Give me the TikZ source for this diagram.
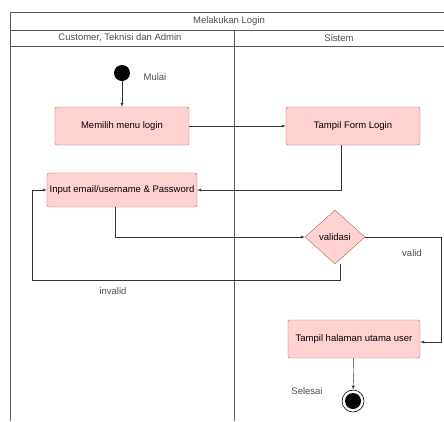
\documentclass[tikz,border=0pt]{standalone}
\usepackage{fontspec}
\setmainfont{Liberation Sans}
\usetikzlibrary{arrows}
\usetikzlibrary{shapes.geometric}
\tikzstyle{act}=[rectangle, rounded corners=2pt, draw=red!45!black!60, fill=red!18, minimum width=134pt, minimum height=38pt, font=\fontsize{9.5}{11}\selectfont]
\tikzstyle{dec}=[diamond, aspect=1.1, draw=red!45!black!60, fill=red!18, minimum width=60pt, minimum height=54pt, inner sep=0pt, font=\fontsize{9.5}{11}\selectfont]
\tikzstyle{lbl}=[font=\fontsize{9.5}{11}\selectfont, text=black!70]
\tikzstyle{lane}=[draw=black!65, line width=.8pt]
\begin{document}
\begin{tikzpicture}[x=1pt, y=-1pt, >=latex]
    \useasboundingbox (0,0) rectangle (444,421);
    % swimlanes
    \draw[lane] (10,421) -- (10,12) -- (444,12);
    \draw[lane] (10,30) -- (444,30);
    \draw[lane] (10,46) -- (444,46);
    \draw[lane] (234,30) -- (234,421);
    \node[lbl] (title) at (229,21) {Melakukan Login};
    \node[lbl] (lane1) at (120,38) {Customer, Teknisi dan Admin};
    \node[lbl] (lane2) at (339,38) {Sistem};
    % nodes
    \node[circle, fill=black, inner sep=0pt, minimum size=16pt] (start) at (122,73) {};
    \node[lbl] (mulai) at (155,77) {Mulai};
    \node[act] (memilih) at (122,126) {Memilih menu login};
    \node[act] (form) at (353,126) {Tampil Form Login};
    \node[act, minimum width=150pt, minimum height=34pt, inner sep=1pt] (input) at (122,190) {Input email/username \& Password};
    \node[dec] (validasi) at (335,237) {validasi};
    \node[act, minimum width=132pt, inner sep=1pt] (utama) at (354,339) {Tampil halaman utama user};
    \node[circle, draw=black, line width=.6pt, inner sep=0pt, minimum size=22pt] (end) at (353,401) {};
    \node[circle, fill=black, inner sep=0pt, minimum size=16pt] (endin) at (end) {};
    \node[lbl] (selesai) at (307,391) {Selesai};
    \node[lbl] (valid) at (412,253) {valid};
    \node[lbl] (invalid) at (113,291) {invalid};
    % bends
    \coordinate (c1) at (341,190);
    \coordinate (c2) at (115,237);
    \coordinate (c3) at (441,237);
    \coordinate (c4) at (441,342);
    \coordinate (c5) at (340,280);
    \coordinate (c6) at (32,280);
    \coordinate (c7) at (32,190);
    % edges
    \foreach \from/\to in {start/memilih, memilih/form, utama/end}
    \draw[->, black!80] (\from) -- (\to);
    \draw[->, black!80] (form.south -| c1) -- (c1) -- (input.east);
    \draw[->, black!80] (input.south -| c2) -- (c2) -- (validasi.west);
    \draw[->, black!80] (validasi.east) -- (c3) -- (c4) -- (utama.east |- c4);
    \draw[->, black!80] (validasi.south -| c5) -- (c5) -- (c6) -- (c7) -- (input.west);
\end{tikzpicture}
\end{document}
